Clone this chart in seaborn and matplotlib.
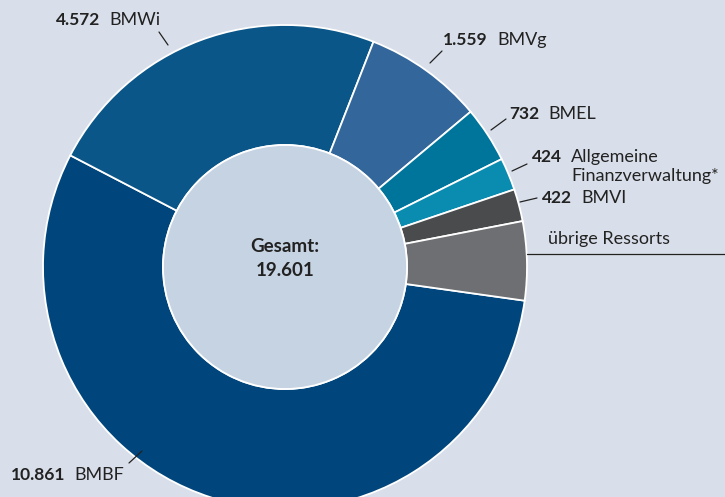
import matplotlib
matplotlib.use("Agg")
import matplotlib.pyplot as plt
import seaborn as sns

# Werte in Mio. Euro
ressorts = ["BMBF", "BMWi", "BMVg", "BMEL", "Allgemeine\nFinanzverwaltung*", "BMVI", "übrige Ressorts"]
werte = [10861, 4572, 1559, 732, 424, 422, 1031]
wert_labels = ["10.861", "4.572", "1.559", "732", "424", "422", ""]
gesamt_label = "19.601"

farben = ["#00457b", "#0b5688", "#33669a", "#00759c", "#0a8bb0", "#4a4b4d", "#6e6f72"]

sns.set_style("white")
plt.rcParams["font.family"] = ["Lato", "DejaVu Sans"]

W, H = 725, 497
fig = plt.figure(figsize=(W / 100, H / 100), dpi=100)
fig.patch.set_facecolor("#d9dfea")
ax = fig.add_axes([0, 0, 1, 1])


def py(y):
    return H - y


cx, cy, r_out, r_in = 285, py(267), 242, 122

ax.pie(werte, colors=farben, startangle=-8, counterclock=False,
       center=(cx, cy), radius=r_out, frame=True,
       wedgeprops=dict(width=r_out - r_in, edgecolor="white", linewidth=1.3))
ax.add_patch(plt.Circle((cx, cy), r_in, facecolor="#c6d3e3", edgecolor="white", linewidth=1.3))
ax.set_xlim(0, W)
ax.set_ylim(0, H)
ax.axis("off")

ax.text(cx, py(247), "Gesamt:", ha="center", va="center", fontsize=13.5, fontweight="bold", color="#222222")
ax.text(cx, py(270), gesamt_label, ha="center", va="center", fontsize=13.5, fontweight="bold", color="#222222")

# Beschriftungen: (rechter Rand Zahl, y, Linie von, Linie nach)
beschriftung = {
    "BMBF": (65, 475, (129, 463), (142, 451)),
    "BMWi": (100, 20, (159, 32), (168, 45)),
    "BMVg": (488, 40, (442, 51), (430, 63)),
    "BMEL": (539, 114, (506, 119), (491, 130)),
    "Allgemeine\nFinanzverwaltung*": (562, 157, (527, 164), (512, 171)),
    "BMVI": (572, 198, (537, 198), (520, 202)),
}

for name, zahl in zip(ressorts, wert_labels):
    if name not in beschriftung:
        continue
    x, y, p0, p1 = beschriftung[name]
    ax.text(x, py(y), zahl, ha="right", va="center", fontsize=12.5, fontweight="bold", color="#222222")
    if "\n" in name:
        zeile1, zeile2 = name.split("\n")
        ax.text(x + 9, py(y), zeile1, ha="left", va="center", fontsize=13, color="#222222")
        ax.text(x + 9, py(y + 19), zeile2, ha="left", va="center", fontsize=13, color="#222222")
    else:
        ax.text(x + 9, py(y), name, ha="left", va="center", fontsize=13, color="#222222")
    ax.plot([p0[0], p1[0]], [py(p0[1]), py(p1[1])], color="#222222", linewidth=0.9)

ax.text(548, py(239), ressorts[-1], ha="left", va="center", fontsize=13, color="#222222")
ax.plot([527, W], [py(254), py(254)], color="#222222", linewidth=0.9)

fig.savefig("out.png", dpi=100, facecolor=fig.get_facecolor())
